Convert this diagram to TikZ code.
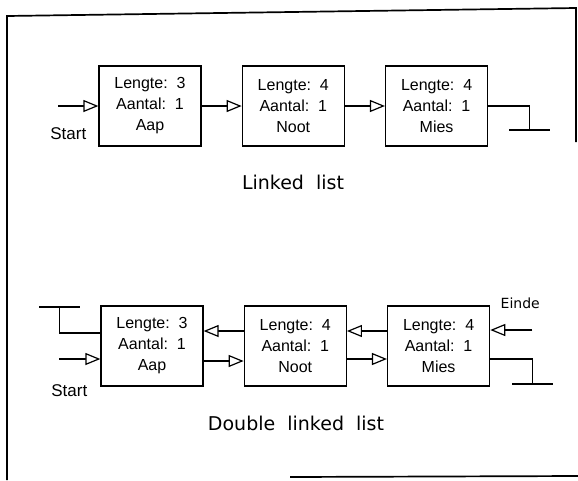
\documentclass[tikz,border=0pt]{standalone}
\usepackage{fontspec}
\setmainfont{Liberation Sans}
\newfontfamily\capfont{DejaVu Sans}
\usetikzlibrary{arrows.meta,positioning}

\begin{document}
\begin{tikzpicture}[
    x=1pt, y=-1pt,
    node distance=40pt,
    cell/.style={draw, line width=1.3pt, minimum width=102pt, minimum height=80pt, inner sep=0pt, align=center, font=\fontsize{16}{21}\selectfont},
    arrow/.style={-{Triangle[open, length=15pt, width=12pt, fill=white]}, line width=1.2pt},
    wire/.style={line width=1.2pt},
    caption/.style={font=\capfont\fontsize{19}{22}\selectfont},
    tag/.style={font=\fontsize{17}{19}\selectfont},
    capt/.style={font=\capfont\fontsize{14}{16}\selectfont}
]
\useasboundingbox (0,0) rectangle (578,480);
% frame
\draw[line width=1.7pt] (7,480) -- (7,16) -- (576,8) -- (576,142);
\draw[line width=1.7pt] (290,477) -- (578,476);

% linked list
\node[cell] (aap1) at (150,106) {Lengte:\ \ 3\\Aantal:\ \ 1\\Aap};
\node[cell, right=of aap1] (noot1) {Lengte:\ \ 4\\Aantal:\ \ 1\\Noot};
\node[cell, right=of noot1] (mies1) {Lengte:\ \ 4\\Aantal:\ \ 1\\Mies};
\coordinate[left=40pt of aap1] (start1);
\node[tag] (startlbl1) at ([xshift=10pt, yshift=-28pt]start1) {Start};
\coordinate (end1) at ([xshift=41pt]mies1.east);
\coordinate (gnd1) at ([yshift=-24pt]end1);
\draw[arrow] (start1) -- (aap1);
\draw[arrow] (aap1) -- (noot1);
\draw[arrow] (noot1) -- (mies1);
\draw[wire] (mies1) -- (end1) -- (gnd1);
\draw[wire] ([xshift=-20pt]gnd1) -- ([xshift=21pt]gnd1);
\node[caption] (title1) at (293,182) {Linked\ \ list};

% double linked list
\node[cell] (aap2) at (152,346) {Lengte:\ \ 3\\Aantal:\ \ 1\\Aap};
\node[cell, right=of aap2] (noot2) {Lengte:\ \ 4\\Aantal:\ \ 1\\Noot};
\node[cell, right=of noot2] (mies2) {Lengte:\ \ 4\\Aantal:\ \ 1\\Mies};
\coordinate (nil2) at ([xshift=-41pt, yshift=13pt]aap2.west);
\coordinate (gnd2) at ([yshift=26pt]nil2);
\coordinate (start2) at ([xshift=-41pt, yshift=-13pt]aap2.west);
\node[tag] (startlbl2) at ([xshift=10pt, yshift=-32pt]start2) {Start};
\coordinate (einde) at ([xshift=42pt, yshift=16pt]mies2.east);
\node[capt] (eindelbl) at ([xshift=-12pt, yshift=27pt]einde) {Einde};
\coordinate (end2) at ([xshift=42pt, yshift=-13pt]mies2.east);
\coordinate (gnd3) at ([yshift=-25pt]end2);
\draw[wire] ([yshift=13pt]aap2.west) -- (nil2) -- (gnd2);
\draw[wire] ([xshift=-20pt]gnd2) -- ([xshift=21pt]gnd2);
\draw[arrow] (start2) -- ([yshift=-13pt]aap2.west);
\draw[arrow] ([yshift=15pt]noot2.west) -- ([yshift=15pt]aap2.east);
\draw[arrow] ([yshift=-15pt]aap2.east) -- ([yshift=-15pt]noot2.west);
\draw[arrow] ([yshift=15pt]mies2.west) -- ([yshift=15pt]noot2.east);
\draw[arrow] ([yshift=-13pt]noot2.east) -- ([yshift=-13pt]mies2.west);
\draw[arrow] (einde) -- ([yshift=16pt]mies2.east);
\draw[wire] ([yshift=-13pt]mies2.east) -- (end2) -- (gnd3);
\draw[wire] ([xshift=-20pt]gnd3) -- ([xshift=21pt]gnd3);
\node[caption] (title2) at (296,423) {Double\ \ linked\ \ list};
\end{tikzpicture}
\end{document}
